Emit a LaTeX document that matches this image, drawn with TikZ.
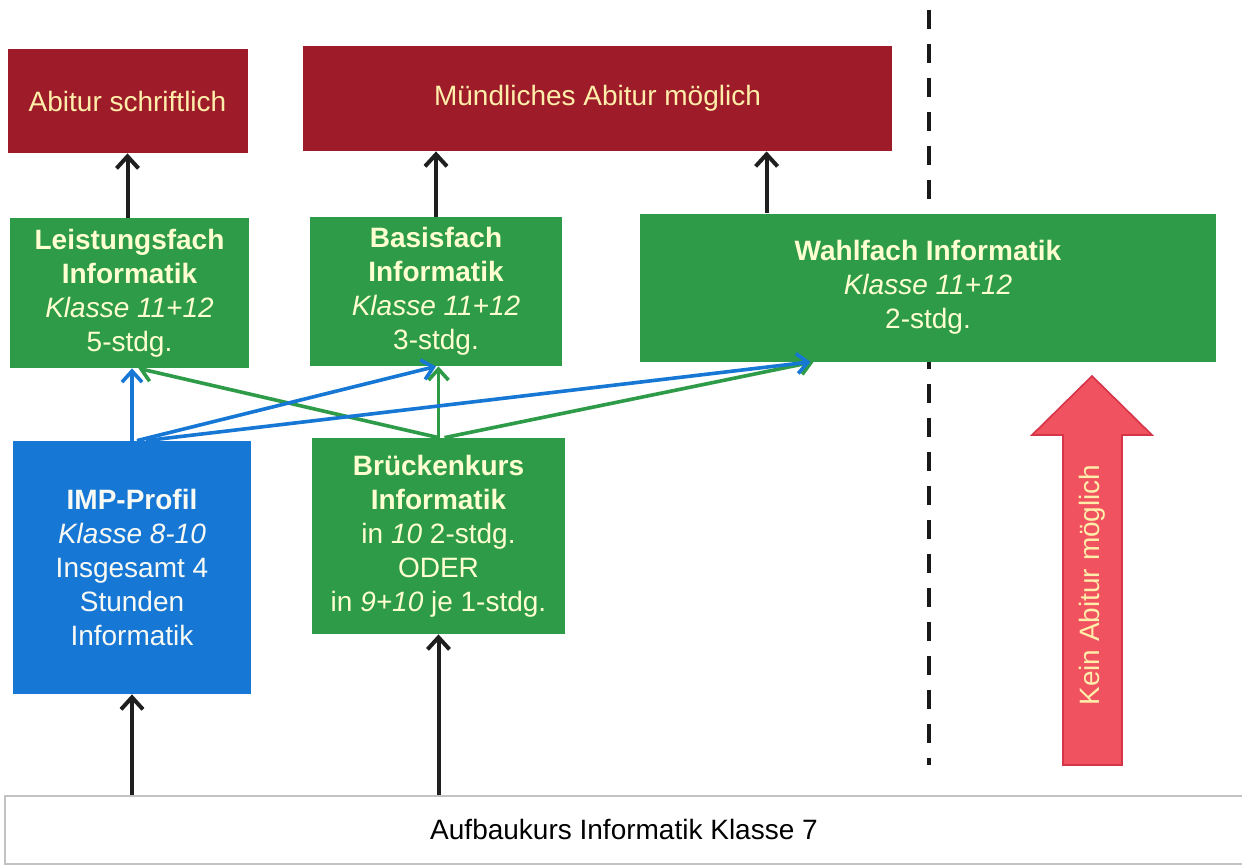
\documentclass[tikz,border=0pt]{standalone}
\usepackage{fontspec}
\setmainfont{Liberation Sans}
\usetikzlibrary{arrows.meta,calc}
\definecolor{abired}{RGB}{158,28,42}
\definecolor{fachgreen}{RGB}{46,155,72}
\definecolor{impblue}{RGB}{22,119,212}
\definecolor{arrowred}{RGB}{240,82,96}
\definecolor{arrowredline}{RGB}{214,52,72}
\definecolor{redtext}{RGB}{255,238,170}
\definecolor{greentext}{RGB}{255,255,210}
\definecolor{bluetext}{RGB}{250,250,245}
\definecolor{akborder}{RGB}{195,195,195}
\begin{document}
\begin{tikzpicture}[x=0.5pt,y=-0.5pt,
  basebox/.style={inner sep=0pt, align=center, font=\fontsize{14}{17}\selectfont},
  redbox/.style={basebox, fill=abired, text=redtext},
  greenbox/.style={basebox, fill=fachgreen, text=greentext},
  bluebox/.style={basebox, fill=impblue, text=bluetext},
  akbox/.style={basebox, fill=white, draw=akborder, line width=1pt, text=black},
  blk/.style={draw=black!88, line width=2pt, -{Straight Barb[length=6pt,width=11pt]}},
  blu/.style={draw=impblue, line width=1.8pt, -{Straight Barb[length=5.5pt,width=10pt]}},
  grn/.style={draw=fachgreen, line width=1.8pt, -{Straight Barb[length=5.5pt,width=10pt]}},
  divider/.style={draw=black!90, line width=2.2pt, dash pattern=on 9.5pt off 7.5pt}
]
\useasboundingbox (0,0) rectangle (1242,864);
\fill[white] (0,0) rectangle (1242,864);

% divider line
\coordinate (dtop) at (929,10);
\coordinate (dbot) at (929,765);
\draw[divider] (dtop) -- (dbot);

% top red boxes
\node[redbox, minimum width=120pt, minimum height=52pt] (abs) at (127.5,101) {Abitur schriftlich};
\node[redbox, minimum width=294.5pt, minimum height=52.5pt] (mue) at (597.5,98.5) {Mündliches Abitur möglich};

% green course boxes
\node[greenbox, minimum width=119.5pt, minimum height=75pt] (lf) at (129.5,293)
  {\textbf{Leistungsfach}\\\textbf{Informatik}\\\textit{Klasse 11+12}\\5-stdg.};
\node[greenbox, minimum width=126pt, minimum height=74.5pt] (bf) at (436,291.5)
  {\textbf{Basisfach}\\\textbf{Informatik}\\\textit{Klasse 11+12}\\3-stdg.};
\node[greenbox, minimum width=288pt, minimum height=74pt] (wf) at (928,287.5)
  {\textbf{Wahlfach Informatik}\\\textit{Klasse 11+12}\\2-stdg.};

% lower boxes
\node[bluebox, minimum width=119pt, minimum height=126.5pt] (imp) at (132,567.5)
  {\textbf{IMP-Profil}\\\textit{Klasse 8-10}\\Insgesamt 4\\Stunden\\Informatik};
\node[greenbox, minimum width=126.5pt, minimum height=98pt] (bk) at (438.5,536)
  {\textbf{Brückenkurs}\\\textbf{Informatik}\\in \textit{10} 2-stdg.\\ODER\\in \textit{9+10} je 1-stdg.};

% base box
\node[akbox, minimum width=619pt, minimum height=34pt] (ak) at (624,829.5) {Aufbaukurs Informatik Klasse 7};

% red "Kein Abitur" arrow
\filldraw[fill=arrowred, draw=arrowredline, line width=0.8pt]
  (1063,765) -- (1063,435) -- (1032,435) -- (1092,376) -- (1152,435) -- (1122,435) -- (1122,765) -- cycle;
\node[basebox, text=redtext, rotate=90] (kein) at (1092.5,585) {Kein Abitur möglich};

% helper coordinates
\coordinate (wfin) at ($(wf.north west)+(127,0)$);
\coordinate (wfblue) at ($(wf.south west)+(171,0)$);
\coordinate (wfgreen) at ($(wf.south west)+(174,0)$);
\coordinate (lfgreen) at ($(lf.south)+(9,0)$);
\coordinate (impb) at ($(imp.north)+(5,0)$);
\coordinate (impc) at ($(imp.north)+(14,0)$);
\coordinate (bkg) at ($(bk.north)+(6,0)$);

% black arrows
\draw[blk] (lf.north -| abs.south) -- (abs.south);
\draw[blk] (bf.north) -- (bf.north |- mue.south);
\draw[blk] (wfin) -- (wfin |- mue.south);
\draw[blk] (imp.south |- ak.north) -- (imp.south);
\draw[blk] (bk.south |- ak.north) -- (bk.south);

% green arrows from Brückenkurs
\draw[grn] (bk.north) -- (lfgreen);
\draw[grn] (bk.north) -- (bk.north |- bf.south);
\draw[grn] (bkg) -- (wfgreen);

% blue arrows from IMP-Profil
\draw[blu] (imp.north) -- (imp.north |- lf.south);
\draw[blu] (impb) -- (bf.south);
\draw[blu] (impc) -- (wfblue);
\end{tikzpicture}
\end{document}
